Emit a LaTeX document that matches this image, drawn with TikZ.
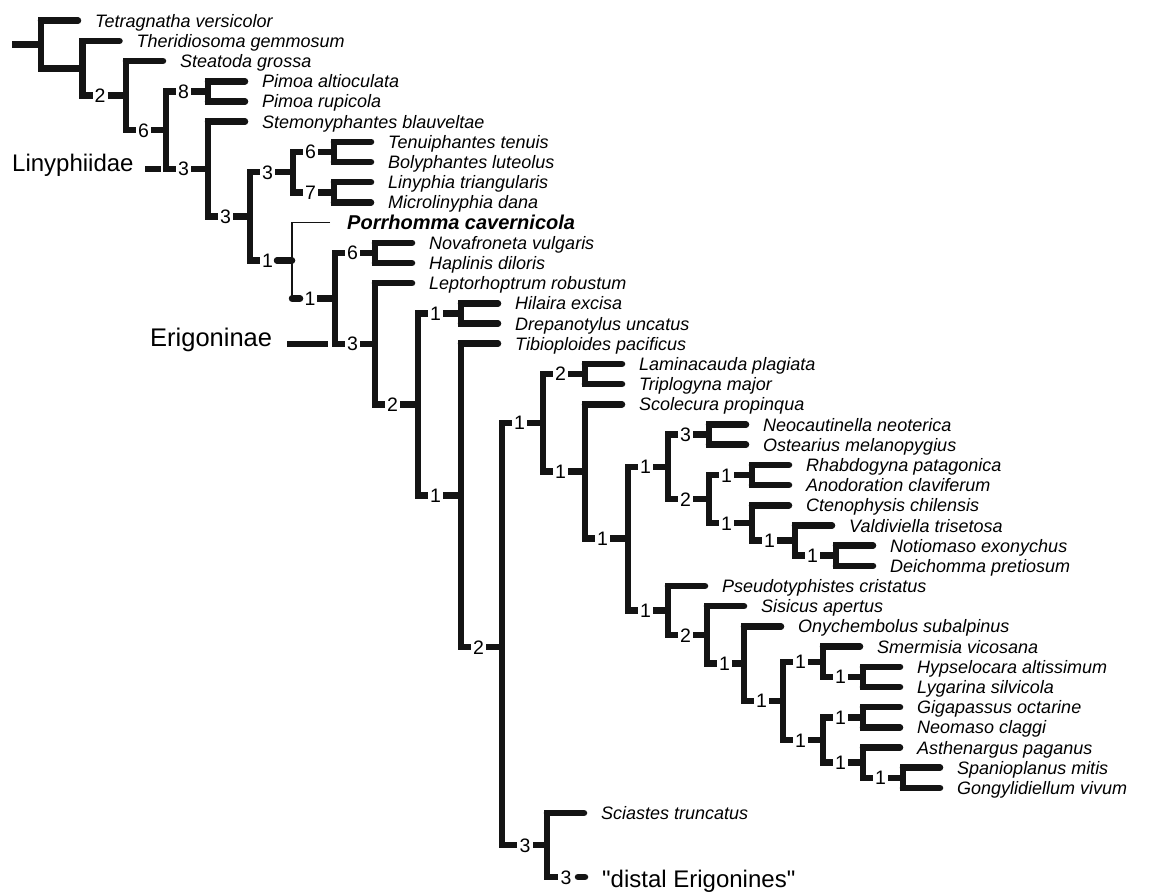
\documentclass[tikz,border=0pt]{standalone}
\usepackage{fontspec}
\setmainfont{Liberation Sans}
\newfontfamily\plainquotefont{Liberation Sans}
\tikzset{
  br/.style={line width=6.5pt, draw=black!92},
  vbr/.style={br, line cap=rect},
  lbr/.style={br, line cap=round},
  sbr/.style={br, line cap=butt},
  thinbr/.style={line width=1.7pt, draw=black!92},
  taxon/.style={anchor=base west, inner sep=0pt, font=\fontsize{18}{20}\selectfont\itshape},
  boldtaxon/.style={anchor=base west, inner sep=0pt, font=\fontsize{20}{22}\selectfont\bfseries\itshape},
  support/.style={anchor=base, inner sep=0pt, font=\fontsize{19.5}{22}\selectfont},
  group/.style={anchor=base west, inner sep=0pt},
}
\newcommand\Tleaf[4]{%
  \draw[lbr] (#2,#3) -- (#2+37,#3);
  \node[taxon] (#1) at (#2+54,#3+6.5) {#4};}
\newcommand\Tclade[5]{%
  \draw[sbr] (#2,#3) -- (#2+10,#3);
  \node[support] (#1) at (#2+17.5,#3+7) {#4};
  \draw[sbr] (#2+25,#3) -- (#5,#3);}
\newcommand\Tvbar[3]{\draw[vbr] (#1,#2) -- (#1,#3);}
\begin{document}
\begin{tikzpicture}[x=1pt,y=-1pt]
\useasboundingbox[fill=white] (0,0) rectangle (1149,893);
% root
\draw[sbr] (12,44.5) -- (41,44.5);
\Tvbar{41}{20.7}{68.3}
\Tleaf{tetra}{41}{20.7}{Tetragnatha versicolor}
\draw[sbr] (41,68.3) -- (82.5,68.3);
% A
\Tvbar{82.5}{40.9}{95.7}
\Tleaf{theri}{82.5}{40.9}{Theridiosoma gemmosum}
\Tclade{nB}{82.5}{95.7}{2}{126}
% B
\Tvbar{126}{61.1}{130.2}
\Tleaf{steat}{126}{61.1}{Steatoda grossa}
\Tclade{nC}{126}{130.2}{6}{166}
% C
\Tvbar{166}{91.4}{169}
\Tclade{nD}{166}{91.4}{8}{208}
\Tclade{nE}{166}{169}{3}{208}
% D
\Tvbar{208}{81.3}{101.5}
\Tleaf{pimA}{208}{81.3}{Pimoa altioculata}
\Tleaf{pimR}{208}{101.5}{Pimoa rupicola}
% E
\Tvbar{208}{121.7}{216.3}
\Tleaf{stem}{208}{121.7}{Stemonyphantes blauveltae}
\Tclade{nF}{208}{216.3}{3}{250}
% F
\Tvbar{250}{172.1}{260.5}
\Tclade{nG}{250}{172.1}{3}{293}
\draw[sbr] (250,260.5) -- (260,260.5);
\node[support] (nJ) at (267.5,267.5) {1};
\draw[lbr] (277,260.5) -- (292,260.5);
% G
\Tvbar{293}{151.9}{192.3}
\Tclade{nH}{293}{151.9}{6}{334}
\Tclade{nI}{293}{192.3}{7}{334}
% H
\Tvbar{334}{141.8}{162}
\Tleaf{tenui}{334}{141.8}{Tenuiphantes tenuis}
\Tleaf{bolyp}{334}{162}{Bolyphantes luteolus}
% I
\Tvbar{334}{182.2}{202.4}
\Tleaf{linyp}{334}{182.2}{Linyphia triangularis}
\Tleaf{micro}{334}{202.4}{Microlinyphia dana}
% J (thin, Porrhomma)
\draw[thinbr] (330,222.6) -- (292,222.6) -- (292,298.4);
\node[boldtaxon] (porr) at (347,229.6) {Porrhomma cavernicola};
\draw[lbr] (292,298.4) -- (300,298.4);
\node[support] (nK) at (310,305.4) {1};
\draw[sbr] (317,298.4) -- (335,298.4);
% K
\Tvbar{335}{252.9}{343.9}
\Tclade{nL}{335}{252.9}{6}{375}
\Tclade{nM}{335}{343.9}{3}{375}
% L
\Tvbar{375}{242.8}{263}
\Tleaf{novaf}{375}{242.8}{Novafroneta vulgaris}
\Tleaf{hapli}{375}{263}{Haplinis diloris}
% M
\Tvbar{375}{283.2}{404.5}
\Tleaf{lepto}{375}{283.2}{Leptorhoptrum robustum}
\Tclade{nN}{375}{404.5}{2}{418}
% N
\Tvbar{418}{313.5}{495.4}
\Tclade{nO}{418}{313.5}{1}{461}
\Tclade{nP}{418}{495.4}{1}{461}
% O
\Tvbar{461}{303.4}{323.6}
\Tleaf{hilai}{461}{303.4}{Hilaira excisa}
\Tleaf{drepa}{461}{323.6}{Drepanotylus uncatus}
% P
\Tvbar{461}{343.7}{647}
\Tleaf{tibio}{461}{343.7}{Tibioploides pacificus}
\Tclade{nQ}{461}{647}{2}{502}
% Q
\Tvbar{502}{422.8}{845}
\Tclade{nR}{502}{422.8}{1}{543}
\draw[sbr] (502,845) -- (517,845);
\node[support] (nAM) at (525,852) {3};
\draw[sbr] (533,845) -- (547,845);
% R
\Tvbar{543}{374}{471.5}
\Tclade{nS}{543}{374}{2}{585}
\Tclade{nT}{543}{471.5}{1}{585}
% S
\Tvbar{585}{363.9}{384.1}
\Tleaf{lamin}{585}{363.9}{Laminacauda plagiata}
\Tleaf{tripl}{585}{384.1}{Triplogyna major}
% T
\Tvbar{585}{404.3}{538.7}
\Tleaf{scole}{585}{404.3}{Scolecura propinqua}
\Tclade{nU}{585}{538.7}{1}{628}
% U
\Tvbar{628}{466.8}{610.5}
\Tclade{nV}{628}{466.8}{1}{668}
\Tclade{nAC}{628}{610.5}{1}{668}
% V
\Tvbar{668}{434.6}{499}
\Tclade{nW}{668}{434.6}{3}{709}
\Tclade{nX}{668}{499}{2}{709}
% W
\Tvbar{709}{424.5}{444.7}
\Tleaf{neoca}{709}{424.5}{Neocautinella neoterica}
\Tleaf{ostea}{709}{444.7}{Ostearius melanopygius}
% X
\Tvbar{709}{475}{523}
\Tclade{nY}{709}{475}{1}{752}
\Tclade{nZ}{709}{523}{1}{752}
% Y
\Tvbar{752}{464.9}{485.1}
\Tleaf{rhabd}{752}{464.9}{Rhabdogyna patagonica}
\Tleaf{anodo}{752}{485.1}{Anodoration claviferum}
% Z
\Tvbar{752}{505.3}{540.6}
\Tleaf{cteno}{752}{505.3}{Ctenophysis chilensis}
\Tclade{nAA}{752}{540.6}{1}{795}
% AA
\Tvbar{795}{525.5}{555.7}
\Tleaf{valdi}{795}{525.5}{Valdiviella trisetosa}
\Tclade{nAB}{795}{555.7}{1}{836}
% AB
\Tvbar{836}{545.6}{565.8}
\Tleaf{notio}{836}{545.6}{Notiomaso exonychus}
\Tleaf{deich}{836}{565.8}{Deichomma pretiosum}
% AC
\Tvbar{668}{586}{635}
\Tleaf{pseud}{668}{586}{Pseudotyphistes cristatus}
\Tclade{nAD}{668}{635}{2}{707}
% AD
\Tvbar{707}{606.2}{663.7}
\Tleaf{sisic}{707}{606.2}{Sisicus apertus}
\Tclade{nAE}{707}{663.7}{1}{744}
% AE
\Tvbar{744}{626.4}{700.9}
\Tleaf{onych}{744}{626.4}{Onychembolus subalpinus}
\Tclade{nAF}{744}{700.9}{1}{783}
% AF
\Tvbar{783}{661.8}{740}
\Tclade{nAG}{783}{661.8}{1}{823}
\Tclade{nAI}{783}{740}{1}{823}
% AG
\Tvbar{823}{646.6}{676.9}
\Tleaf{smerm}{823}{646.6}{Smermisia vicosana}
\Tclade{nAH}{823}{676.9}{1}{863}
% AH
\Tvbar{863}{666.8}{687}
\Tleaf{hypse}{863}{666.8}{Hypselocara altissimum}
\Tleaf{lygar}{863}{687}{Lygarina silvicola}
% AI
\Tvbar{823}{717.3}{762.7}
\Tclade{nAJ}{823}{717.3}{1}{863}
\Tclade{nAK}{823}{762.7}{1}{863}
% AJ
\Tvbar{863}{707.2}{727.4}
\Tleaf{gigap}{863}{707.2}{Gigapassus octarine}
\Tleaf{neoma}{863}{727.4}{Neomaso claggi}
% AK
\Tvbar{863}{747.5}{777.8}
\Tleaf{asthe}{863}{747.5}{Asthenargus paganus}
\Tclade{nAL}{863}{777.8}{1}{903}
% AL
\Tvbar{903}{767.7}{787.9}
\Tleaf{spani}{903}{767.7}{Spanioplanus mitis}
\Tleaf{gongy}{903}{787.9}{Gongylidiellum vivum}
% AM
\Tvbar{547}{813}{877}
\Tleaf{scias}{547}{813}{Sciastes truncatus}
\draw[sbr] (547,877) -- (558,877);
\node[support] (nDist) at (566,884) {3};
\draw[lbr] (578,877) -- (585,877);
\node[group, font=\plainquotefont\fontsize{24}{28}\selectfont] (distal) at (602,887) {"distal Erigonines"};
% group markers
\draw[sbr] (145,169) -- (161,169);
\node[group, font=\fontsize{24}{28}\selectfont] (liny) at (12,172) {Linyphiidae};
\draw[sbr] (287,343.9) -- (328,343.9);
\node[group, font=\fontsize{25.5}{28}\selectfont] (erig) at (150,347) {Erigoninae};
\end{tikzpicture}
\end{document}
